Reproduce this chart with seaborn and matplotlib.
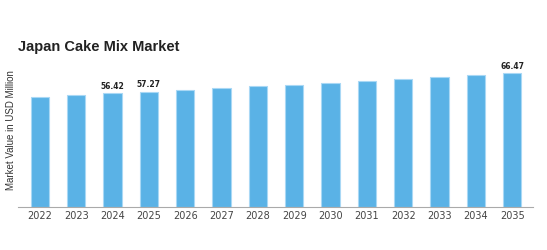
import matplotlib
matplotlib.use("Agg")
import matplotlib.pyplot as plt
import seaborn as sns
import pandas as pd

years = ["2022", "2023", "2024", "2025", "2026", "2027", "2028",
         "2029", "2030", "2031", "2032", "2033", "2034", "2035"]
values = [54.8, 55.6, 56.42, 57.27, 58.1, 59.0, 59.9,
          60.8, 61.7, 62.6, 63.6, 64.5, 65.5, 66.47]
labeled = {"2024": "56.42", "2025": "57.27", "2035": "66.47"}

df = pd.DataFrame({"year": years, "value": values})

sns.set_style("white")
plt.rcParams['font.family'] = ['DejaVu Sans']

fig = plt.figure(figsize=(5.47, 2.5), dpi=100)
ax = fig.add_axes([0.033, 0.172, 0.942, 0.588])

sns.barplot(data=df, x="year", y="value", color="#5AB2E6", width=0.5,
            edgecolor="#A9D8F5", linewidth=0.8, saturation=1, ax=ax)

for i, (y, v) in enumerate(zip(years, values)):
    if y in labeled:
        ax.text(i, v + 1.2, labeled[y], ha="center", va="bottom",
                fontsize=5.5, fontweight="bold", color="#222222")

ax.set_ylim(0, 73)
ax.set_xlim(-0.6, 13.58)
ax.set_yticks([])
ax.set_xlabel("")
ax.set_ylabel("Market Value in USD Million", fontsize=7, color="#333333",
              labelpad=0, family=["Liberation Sans", "DejaVu Sans"])
ax.yaxis.set_label_coords(-0.004, 0.52)
ax.tick_params(axis="x", labelsize=7, colors="#444444", length=0, pad=3)
for s in ["top", "right", "left"]:
    ax.spines[s].set_visible(False)
ax.spines["bottom"].set_color("#AAAAAA")
ax.spines["bottom"].set_linewidth(0.8)

fig.text(0.033, 0.81, "Japan Cake Mix Market", fontsize=10.5, fontweight="bold",
         color="#222222", ha="left", va="center",
         family=["Liberation Sans", "DejaVu Sans"])

fig.savefig("out.png", dpi=100)
